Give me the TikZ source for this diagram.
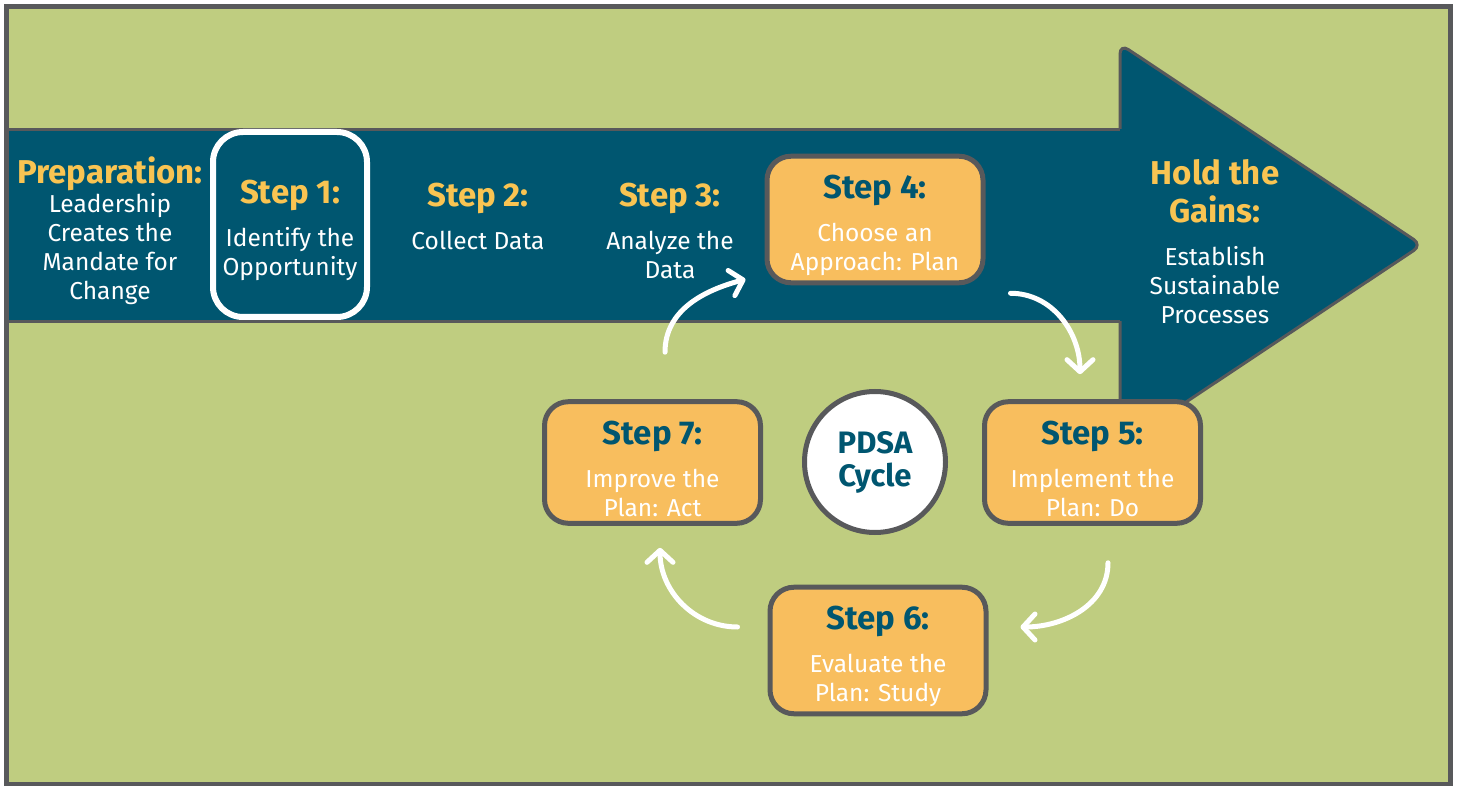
\documentclass[tikz,border=0pt]{standalone}
\usepackage{fontspec}
\setmainfont{Fira Sans}
\usepackage{xcolor}
\usetikzlibrary{positioning, arrows.meta, calc}

\definecolor{pdsagreen}{HTML}{BFCD80}
\definecolor{pdsateal}{HTML}{005670}
\definecolor{pdsagray}{HTML}{58595B}
\definecolor{pdsaorange}{HTML}{F8BE5E}
\definecolor{pdsayellow}{HTML}{F9C452}

\newcommand{\headsize}{\fontsize{16.5}{19}\selectfont\bfseries}
\newcommand{\stephead}[1]{{\headsize\color{pdsayellow}#1}}
\newcommand{\boxhead}[1]{{\headsize\color{pdsateal}\rule{0pt}{18pt}#1}}

\begin{document}
\begin{tikzpicture}[
  x=0.5pt, y=-0.5pt,
  plain/.style={align=center, text=white, font=\fontsize{12.25}{14.5}\selectfont},
  stepbox/.style={plain, draw=pdsagray, line width=2.5pt, fill=pdsaorange, rounded corners=12pt, minimum width=108pt, minimum height=60pt},
  framebox/.style={plain, draw=white, line width=3pt, rounded corners=15pt, minimum width=77pt, minimum height=92.5pt},
  cyclenode/.style={circle, draw=pdsagray, line width=2.5pt, fill=white, minimum size=70.5pt, align=center, text=pdsateal, font=\fontsize{15.5}{16.5}\selectfont\bfseries},
  turn/.style={draw=white, line width=2.5pt, line cap=round, -{Straight Barb[length=6pt, width=13pt, round]}}
]
  \useasboundingbox (0,0) rectangle (1457,786);

  % Background
  \draw[pdsagray, line width=2.5pt, fill=pdsagreen] (6.5,6.5) rectangle (1450.5,784.5);

  % Big arrow
  \draw[pdsagray, line width=1.5pt, fill=pdsateal, rounded corners=5pt] (1120,44) -- (1422,245) -- (1120,446) -- cycle;
  \fill[pdsateal] (9,129.5) rectangle (1121.5,321.5);
  \draw[pdsagray, line width=1.5pt] (9,129.5) -- (1120,129.5) (9,321.5) -- (1120,321.5);

  % Top row
  \node[plain] (prep) at (110,231) {\stephead{Preparation:}\\Leadership\\Creates the\\Mandate for\\Change};
  \node[framebox] (s1) at (290,224.5) {\stephead{\rule{0pt}{18pt}Step 1:}\\[7pt]Identify the\\Opportunity};
  \node[plain] (s2) at (478,216) {\stephead{Step 2:}\\[7pt]Collect Data};
  \node[plain] (s3) at (670,231) {\stephead{Step 3:}\\[7pt]Analyze the\\Data};
  \node[stepbox] (s4) at (875,219.5) {\boxhead{Step 4:}\\[7pt]Choose an\\Approach: Plan};
  \node[plain] (gains) at (1215,242) {\stephead{Hold the}\\[4.5pt]\stephead{Gains:}\\[7pt]Establish\\Sustainable\\Processes};

  % PDSA cycle
  \node[cyclenode] (pdsa) at (875,462) {PDSA\\Cycle};
  \node[stepbox] (s5) at (1092.5,462.5) {\boxhead{Step 5:}\\[7pt]Implement the\\Plan: Do};
  \node[stepbox] (s6) at (878,650.5) {\boxhead{Step 6:}\\[7pt]Evaluate the\\Plan: Study};
  \node[stepbox] (s7) at (652.5,462.5) {\boxhead{Step 7:}\\[7pt]Improve the\\Plan: Act};

  % Cycle arrows
  \draw[turn] ($(s7.north)+(12.5,-47)$) to[out=90, in=195] ($(s4.south west)+(-19,-6)$);
  \draw[turn] ($(s4.south east)+(25,8)$) to[out=0, in=90] ($(s5.north)+(-12.5,-25)$);
  \draw[turn] ($(s5.south)+(15.5,37)$) to[out=-90, in=0] ($(s6.east)+(32,-23.5)$);
  \draw[turn] ($(s6.west)+(-30,-23.5)$) to[out=180, in=-90] ($(s7.south)+(7.5,22)$);

\end{tikzpicture}
\end{document}
